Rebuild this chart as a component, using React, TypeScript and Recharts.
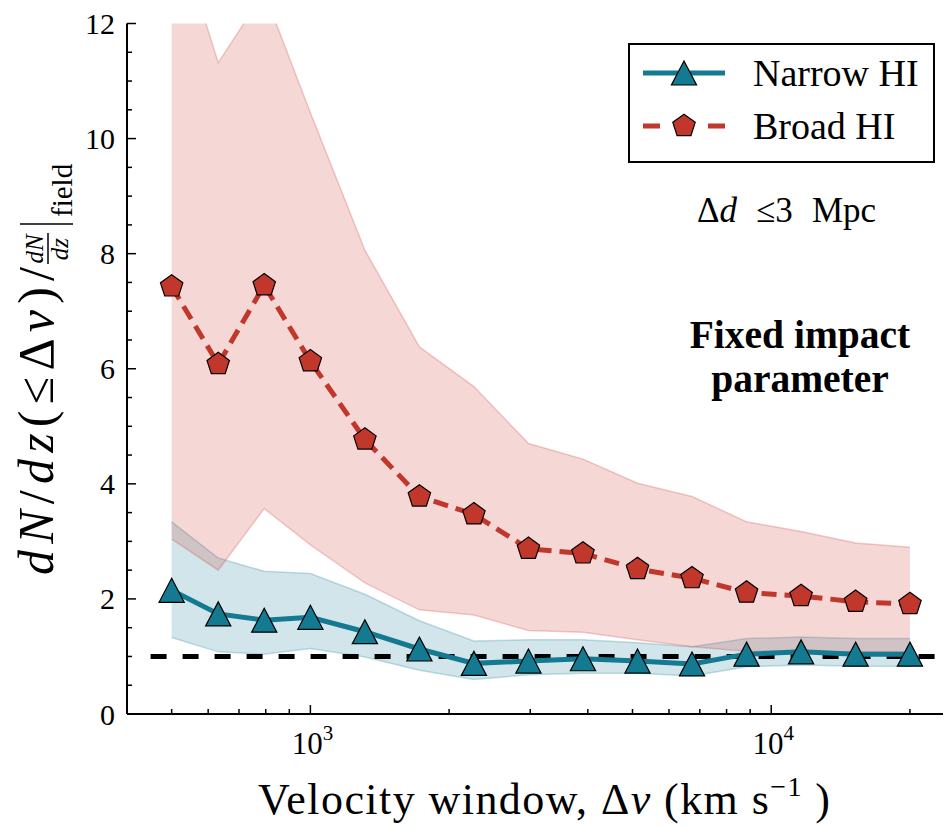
import React from 'react';
import {
  ComposedChart,
  Line,
  Area,
  XAxis,
  YAxis,
  ReferenceLine,
  Legend,
  Customized,
} from 'recharts';

// velocity window (km/s)
const velocity = [500, 631, 794, 1000, 1313, 1724, 2264, 2973, 3904, 5127, 6732, 8840, 11608, 15243, 20000];

// Narrow HI
const narrowHI = [2.15, 1.74, 1.63, 1.68, 1.43, 1.13, 0.88, 0.92, 0.96, 0.92, 0.87, 1.04, 1.08, 1.04, 1.04];
const narrowLow = [1.33, 1.08, 1.04, 1.14, 0.99, 0.76, 0.6, 0.68, 0.71, 0.71, 0.66, 0.82, 0.85, 0.83, 0.83];
const narrowHigh = [3.34, 2.71, 2.48, 2.44, 2.08, 1.62, 1.27, 1.29, 1.29, 1.24, 1.17, 1.31, 1.34, 1.31, 1.31];

// Broad HI
const broadHI = [7.43, 6.08, 7.45, 6.13, 4.77, 3.78, 3.47, 2.87, 2.79, 2.52, 2.36, 2.11, 2.05, 1.95, 1.91];
const broadLow = [3.04, 2.5, 3.57, 2.94, 2.28, 1.81, 1.72, 1.45, 1.42, 1.29, 1.17, 1.09, 1.08, 1.08, 1.08];
const broadHigh = [13.9, 11.32, 12.54, 10.45, 8.06, 6.38, 5.69, 4.7, 4.43, 4.01, 3.78, 3.34, 3.17, 2.97, 2.9];

const xMajorTicks = [1000, 10000];
const xMajorExponents = ['3', '4'];
const xMinorTicks = [500, 600, 700, 800, 900, 2000, 3000, 4000, 5000, 6000, 7000, 8000, 9000, 20000];
const yTicks = [0, 0.5, 1, 1.5, 2, 2.5, 3, 3.5, 4, 4.5, 5, 5.5, 6, 6.5, 7, 7.5, 8, 8.5, 9, 9.5, 10, 10.5, 11, 11.5, 12];
const yLabelTicks = [0, 2, 4, 6, 8, 10, 12];
const legendOrder = ['narrow', 'broad'];

const fieldLevel = 1;
const fieldFrom = 450;
const fieldTo = 23000;

const BLUE = '#137a92';
const RED = '#c2372b';
const FONT = '"Liberation Serif", "Times New Roman", serif';

const data = velocity.map((v, i) => ({
  v,
  narrow: narrowHI[i],
  narrowBand: [narrowLow[i], narrowHigh[i]],
  broad: broadHI[i],
  broadBand: [broadLow[i], broadHigh[i]],
}));

const xAllTicks = [...xMinorTicks, ...xMajorTicks].sort((a, b) => a - b);

function BottomTick(props: any) {
  const { x, y, payload } = props;
  const idx = xMajorTicks.indexOf(payload.value);
  const major = idx >= 0;
  return (
    <g>
      <line x1={x} x2={x} y1={y} y2={y - (major ? 9 : 5)} stroke="#000" strokeWidth={1.5} />
      {major && (
        <text x={x + 2} y={y + 40} textAnchor="middle" fontFamily={FONT} fontSize={31} fill="#000">
          10
          <tspan dy={-14} fontSize={21}>
            {xMajorExponents[idx]}
          </tspan>
        </text>
      )}
    </g>
  );
}

function TopTick(props: any) {
  const { x, y, payload } = props;
  const major = xMajorTicks.includes(payload.value);
  return <line x1={x} x2={x} y1={y} y2={y + (major ? 9 : 5)} stroke="#000" strokeWidth={1.5} />;
}

function LeftTick(props: any) {
  const { x, y, payload } = props;
  const major = yLabelTicks.includes(payload.value);
  return (
    <g>
      <line x1={x} x2={x + (major ? 9 : 5)} y1={y} y2={y} stroke="#000" strokeWidth={1.5} />
      {major && (
        <text x={x - 12} y={y} dy="0.35em" textAnchor="end" fontFamily={FONT} fontSize={30} fill="#000">
          {payload.value}
        </text>
      )}
    </g>
  );
}

function RightTick(props: any) {
  const { x, y, payload } = props;
  const major = yLabelTicks.includes(payload.value);
  return <line x1={x} x2={x - (major ? 9 : 5)} y1={y} y2={y} stroke="#000" strokeWidth={1.5} />;
}

function triPoints(cx: number, cy: number, s: number) {
  return `${cx},${cy - s} ${cx - s * 1.05},${cy + s} ${cx + s * 1.05},${cy + s}`;
}

function pentPoints(cx: number, cy: number, r: number) {
  const pts: string[] = [];
  for (let k = 0; k < 5; k++) {
    const a = -Math.PI / 2 + (k * 2 * Math.PI) / 5;
    pts.push(`${cx + r * Math.cos(a)},${cy + r * Math.sin(a)}`);
  }
  return pts.join(' ');
}

function Triangle(props: any) {
  const { cx, cy } = props;
  if (cx == null || cy == null) return null;
  return <polygon points={triPoints(cx, cy, 12)} fill={BLUE} stroke="#000" strokeWidth={1.2} />;
}

function Pentagon(props: any) {
  const { cx, cy } = props;
  if (cx == null || cy == null) return null;
  return <polygon points={pentPoints(cx, cy, 11.8)} fill={RED} stroke="#000" strokeWidth={1.2} />;
}

function LegendBox(props: any) {
  const items = (props.payload || [])
    .filter((p: any) => legendOrder.includes(p.dataKey))
    .sort((a: any, b: any) => legendOrder.indexOf(a.dataKey) - legendOrder.indexOf(b.dataKey));
  return (
    <div
      style={{
        boxSizing: 'border-box',
        width: 307,
        height: 120,
        border: '2px solid #000',
        background: '#fff',
      }}
    >
      <svg width={303} height={116} style={{ display: 'block' }}>
        {items.map((it: any, i: number) => {
          const cy = 28 + i * 53;
          const isNarrow = it.dataKey === 'narrow';
          return (
            <g key={it.dataKey}>
              {isNarrow ? (
                <line x1={13} x2={95} y1={cy} y2={cy} stroke={BLUE} strokeWidth={5} />
              ) : (
                <line x1={13} x2={95} y1={cy} y2={cy} stroke={RED} strokeWidth={5} strokeDasharray="17 48" />
              )}
              {isNarrow ? (
                <polygon points={triPoints(54, cy, 12)} fill={BLUE} stroke="#000" strokeWidth={1.2} />
              ) : (
                <polygon points={pentPoints(54, cy, 11.8)} fill={RED} stroke="#000" strokeWidth={1.2} />
              )}
              <text x={123} y={cy + 13} fontFamily={FONT} fontSize={38} fill="#000">
                {it.value}
              </text>
            </g>
          );
        })}
      </svg>
    </div>
  );
}

function Annotations() {
  return (
    <g fontFamily={FONT} fill="#000">
      {/* y axis label */}
      <g transform="translate(45, 567) rotate(-90)">
        <text x={0} y={0} fontSize={50} textLength={308} lengthAdjust="spacing">
          <tspan fontStyle="italic">dN</tspan>/<tspan fontStyle="italic">dz</tspan>(≤Δ<tspan fontStyle="italic">v</tspan>)/
        </text>
        <text x={326} y={-10} fontSize={25} fontStyle="italic" textAnchor="middle">
          dN
        </text>
        <line x1={311} x2={342} y1={-5} y2={-5} stroke="#000" strokeWidth={1.5} />
        <text x={326} y={15} fontSize={25} fontStyle="italic" textAnchor="middle">
          dz
        </text>
        <line x1={351} x2={351} y1={-33} y2={20} stroke="#000" strokeWidth={1.5} />
        <text x={358} y={19} fontSize={29}>
          field
        </text>
      </g>
      {/* x axis label */}
      <text x={536} y={806} fontSize={44} textAnchor="middle" textLength={572} lengthAdjust="spacing">
        Velocity window, Δ<tspan fontStyle="italic">v</tspan> (km s
        <tspan dy={-18} fontSize={28}>−1</tspan>
        <tspan dy={18}> )</tspan>
      </text>
      <text y={214} fontSize={35}>
        <tspan x={689}>Δ</tspan>
        <tspan fontStyle="italic">d</tspan>
        <tspan x={748}>≤3</tspan>
        <tspan x={804}>Mpc</tspan>
      </text>
      <text x={792} y={340} fontSize={39.5} fontWeight="bold" textAnchor="middle">
        Fixed impact
      </text>
      <text x={792} y={384} fontSize={39.5} fontWeight="bold" textAnchor="middle">
        parameter
      </text>
    </g>
  );
}

export default function App() {
  return (
    <ComposedChart
      width={943}
      height={818}
      data={data}
      margin={{ top: 15.5, right: -2, bottom: 0, left: 0 }}
      style={{ fontFamily: FONT }}
    >
      <XAxis
        dataKey="v"
        type="number"
        scale="log"
        domain={[400, 24800]}
        allowDataOverflow
        ticks={xAllTicks}
        interval={0}
        tickSize={0}
        tickMargin={0}
        tickLine={false}
        tick={<BottomTick />}
        height={112}
        axisLine={{ stroke: '#000', strokeWidth: 2 }}
      />
      <XAxis
        xAxisId="top"
        orientation="top"
        dataKey="v"
        type="number"
        scale="log"
        domain={[400, 24800]}
        allowDataOverflow
        ticks={xAllTicks}
        interval={0}
        tickSize={0}
        tickMargin={0}
        tickLine={false}
        tick={<TopTick />}
        height={0}
        axisLine={{ stroke: '#000', strokeWidth: 2 }}
      />
      <YAxis
        type="number"
        domain={[0, 12]}
        allowDataOverflow
        ticks={yTicks}
        interval={0}
        tickSize={0}
        tickMargin={0}
        tickLine={false}
        tick={<LeftTick />}
        width={119}
        axisLine={{ stroke: '#000', strokeWidth: 2 }}
      />
      <YAxis
        yAxisId="right"
        orientation="right"
        type="number"
        domain={[0, 12]}
        allowDataOverflow
        ticks={yTicks}
        interval={0}
        tickSize={0}
        tickMargin={0}
        tickLine={false}
        tick={<RightTick />}
        width={0}
        axisLine={{ stroke: '#000', strokeWidth: 2 }}
      />
      <Area
        type="linear"
        dataKey="narrowBand"
        fill="#1a7f99"
        fillOpacity={0.2}
        stroke="#1a7f99"
        strokeOpacity={0.25}
        strokeWidth={1.5}
        legendType="none"
        isAnimationActive={false}
        activeDot={false}
      />
      <Area
        type="linear"
        dataKey="broadBand"
        fill="#cc3b33"
        fillOpacity={0.2}
        stroke="#cc3b33"
        strokeOpacity={0.25}
        strokeWidth={1.5}
        legendType="none"
        isAnimationActive={false}
        activeDot={false}
      />
      <ReferenceLine
        segment={[
          { x: fieldFrom, y: fieldLevel },
          { x: fieldTo, y: fieldLevel },
        ]}
        stroke="#000"
        strokeWidth={5}
        strokeDasharray="16 16"
      />
      <Line
        type="linear"
        dataKey="narrow"
        name="Narrow HI"
        stroke={BLUE}
        strokeWidth={5}
        dot={(p: any) => <Triangle key={`t${p.index}`} {...p} />}
        activeDot={false}
        isAnimationActive={false}
      />
      <Line
        type="linear"
        dataKey="broad"
        name="Broad HI"
        stroke={RED}
        strokeWidth={5}
        strokeDasharray="15 8"
        dot={(p: any) => <Pentagon key={`p${p.index}`} {...p} />}
        activeDot={false}
        isAnimationActive={false}
      />
      <Legend
        layout="horizontal"
        align="center"
        verticalAlign="middle"
        content={<LegendBox />}
        wrapperStyle={{ left: 620, top: 35, width: 307, height: 120 }}
      />
      <Customized component={<Annotations />} />
    </ComposedChart>
  );
}
